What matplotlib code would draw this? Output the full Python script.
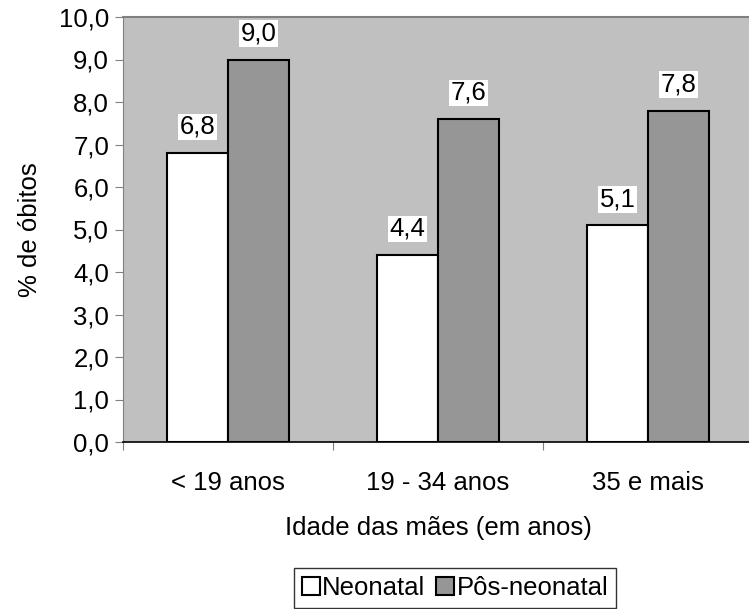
import matplotlib
matplotlib.use('Agg')
import matplotlib.pyplot as plt
import numpy as np

# dados: % de óbitos por idade da mãe
categorias = ['< 19 anos', '19 - 34 anos', '35 e mais']
neonatal = [6.8, 4.4, 5.1]
pos_neonatal = [9.0, 7.6, 7.8]
yticks = np.arange(0, 10.5, 1.0)

plt.rcParams['font.family'] = ['Liberation Sans', 'DejaVu Sans']
fs = 18.5

fig = plt.figure(figsize=(7.49, 6.09), dpi=100)
ax = fig.add_axes([123 / 749, 1 - 442 / 609, 630 / 749, 425 / 609])
ax.set_facecolor('#C0C0C0')

x = np.arange(len(categorias))
w = 0.29
b1 = ax.bar(x - w / 2, neonatal, w, color='white', edgecolor='black', linewidth=1.5, label='Neonatal', zorder=3)
b2 = ax.bar(x + w / 2, pos_neonatal, w, color='#969696', edgecolor='black', linewidth=1.5, label='Pôs-neonatal', zorder=3)

for bars, vals in [(b1, neonatal), (b2, pos_neonatal)]:
    for r, v in zip(bars, vals):
        ax.text(r.get_x() + r.get_width() / 2, v + 0.33, f'{v:.1f}'.replace('.', ','),
                ha='center', va='bottom', fontsize=fs, zorder=4,
                bbox=dict(facecolor='white', edgecolor='none', pad=1.0))

ax.set_xlim(-0.5, 2.5)
ax.set_ylim(0, 10)
ax.set_yticks(yticks)
ax.set_yticklabels([f'{t:.1f}'.replace('.', ',') for t in yticks], fontsize=fs)
ax.set_xticks([-0.5, 0.5, 1.5, 2.5])
ax.set_xticklabels([])
ax.set_xticks(x, minor=True)
ax.set_xticklabels(categorias, minor=True, fontsize=fs)
ax.tick_params(axis='x', which='minor', length=0, pad=21)
ax.tick_params(axis='x', which='major', length=6, direction='out', color='#808080')
ax.tick_params(axis='y', length=6, direction='out', color='#808080', pad=4)

ax.spines['top'].set_color('#808080')
ax.spines['top'].set_linewidth(1.5)
ax.spines['left'].set_color('#808080')
ax.spines['bottom'].set_color('black')
ax.spines['bottom'].set_linewidth(1.2)
ax.spines['right'].set_visible(False)

ax.set_ylabel('% de óbitos', fontsize=fs, labelpad=12)
ax.set_xlabel('Idade das mães (em anos)', fontsize=fs, labelpad=15)

leg = fig.legend(handles=[b1, b2], loc='lower center', bbox_to_anchor=(455 / 749, 0.0),
                 ncol=2, fontsize=fs, frameon=True, fancybox=False, edgecolor='black',
                 handlelength=0.7, handleheight=0.7, handletextpad=0.1, columnspacing=0.4,
                 borderpad=0.3, borderaxespad=0.05)
leg.get_frame().set_linewidth(1.0)

fig.savefig('out.png', dpi=100)
